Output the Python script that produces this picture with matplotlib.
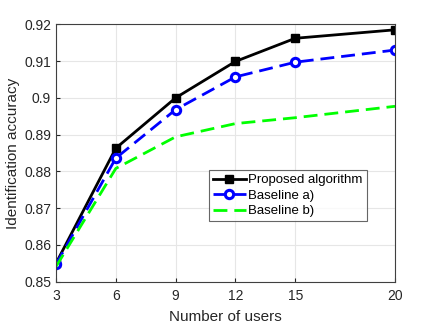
import matplotlib.pyplot as plt

plt.rcParams['font.family'] = ['Liberation Sans', 'DejaVu Sans']

# ------ data ------
users = [3, 6, 9, 12, 15, 20]
proposed = [0.855, 0.8863, 0.9000, 0.9099, 0.9162, 0.9185]
baseline_a = [0.8547, 0.8836, 0.8968, 0.9057, 0.9097, 0.9130]
baseline_b = [0.8541, 0.8808, 0.8894, 0.8930, 0.8946, 0.8977]
x_ticks = [3, 6, 9, 12, 15, 20]
y_ticks = [0.85, 0.86, 0.87, 0.88, 0.89, 0.90, 0.91, 0.92]
y_ticklabels = ['0.85', '0.86', '0.87', '0.88', '0.89', '0.9', '0.91', '0.92']
# ------ /data ------

fig = plt.figure(figsize=(4.36, 3.27), dpi=100)
ax = fig.add_axes([0.1284, 0.1385, 0.9060 - 0.1284, 0.9257 - 0.1385])

ax.plot(users, proposed, color='black', lw=2, marker='s', ms=5.5,
        label='Proposed algorithm')
ax.plot(users, baseline_a, color='blue', lw=2, ls=(0, (5, 2.5)), marker='o',
        ms=6, mfc='white', mew=2.2, label='Baseline a)')
ax.plot(users, baseline_b, color='#00ff00', lw=2, ls=(0, (5, 2.5)),
        label='Baseline b)')

ax.set_xlim(3, 20)
ax.set_ylim(0.85, 0.92)
ax.set_xticks(x_ticks)
ax.set_yticks(y_ticks)
ax.set_yticklabels(y_ticklabels)
ax.tick_params(direction='in', labelsize=10, colors='#262626', length=3)
ax.tick_params(axis='x', pad=5)
ax.grid(True, color='#e6e6e6', lw=0.8)
ax.set_axisbelow(True)
for s in ax.spines.values():
    s.set_color('#404040')
    s.set_linewidth(0.8)

ax.set_xlabel('Number of users', fontsize=11, color='#262626', labelpad=5)
ax.set_ylabel('Identification accuracy', fontsize=11, color='#262626', labelpad=3)

leg = ax.legend(loc='upper left', bbox_to_anchor=(0.451, 0.434), fontsize=9.5,
                frameon=True, fancybox=False, handlelength=2.5,
                handletextpad=0.2, borderpad=0.3, labelspacing=0.25,
                borderaxespad=0)
leg.get_frame().set_edgecolor('#404040')
leg.get_frame().set_linewidth(0.8)

fig.savefig('out.png', dpi=100)
